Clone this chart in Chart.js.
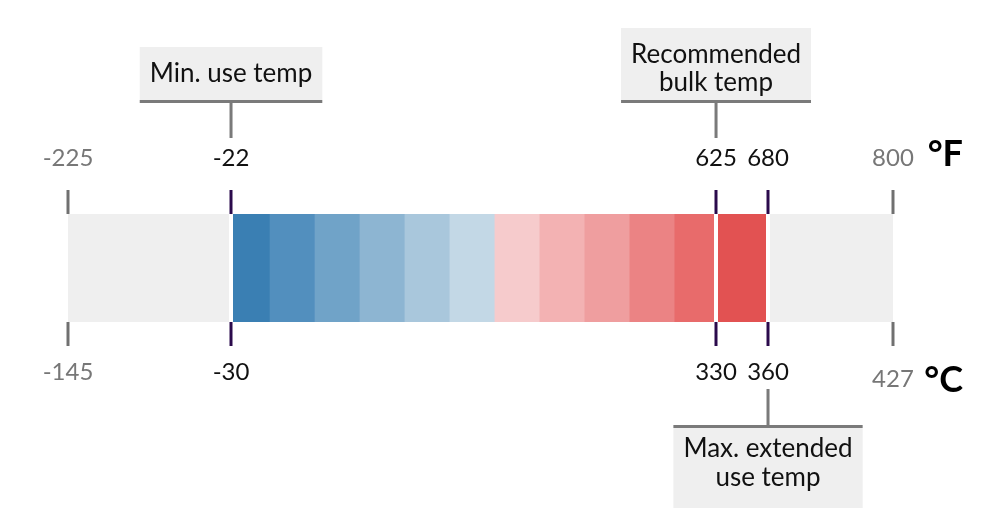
<!DOCTYPE html>
<html>
<head>
<meta charset="utf-8">
<script src="https://cdn.jsdelivr.net/npm/chart.js@4.4.1/dist/chart.umd.min.js"></script>
<style>
    body { margin: 0; background: #fff; }
    #wrap { width: 1001px; height: 509px; position: relative; }
</style>
</head>
<body>
<div id="wrap"><canvas id="temp-scale"></canvas></div>
<script>
// marks on the two axes (same physical points, °F on top, °C below)
const ticksF = [-225, -22, 625, 680, 800];
const ticksC = [-145, -30, 330, 360, 427];
const keyTicks = [false, true, true, true, false];

// colour ramp, one band per step in °F
const bandFrom = [-22, 30, 90, 150, 210, 270, 330, 390, 450, 510, 570, 625];
const bandTo = [30, 90, 150, 210, 270, 330, 390, 450, 510, 570, 625, 680];

// whole scale shown in grey behind the ramp
const fullRange = [-225, 800];

const calloutTemps = [-22, 625, 680];
const calloutLabels = [['Min. use temp'], ['Recommended', 'bulk temp'], ['Max. extended', 'use temp']];
const calloutSide = ['top', 'top', 'bottom'];

const bandColors = ['#3a7fb3', '#528fbe', '#70a3c8', '#8db5d2', '#a9c7dc', '#c3d8e6',
    '#f6cbcc', '#f3b2b3', '#ef9e9f', '#eb8384', '#e86b6b', '#e25252'];

// where each tick sits along the axis (the original scale is drawn piecewise)
const axisStops = [0, 0.1976, 0.7855, 0.8485, 1];

function interp(v, from, to) {
    for (let i = 1; i < from.length; i++) {
        if (v <= from[i] || i === from.length - 1) {
            const t = (v - from[i - 1]) / (from[i] - from[i - 1]);
            return to[i - 1] + t * (to[i] - to[i - 1]);
        }
    }
}

class BreakScale extends Chart.LinearScale {
    getPixelForValue(value) {
        if (value === null || value === undefined) return NaN;
        return this.getPixelForDecimal(interp(value, ticksF, axisStops));
    }
    getValueForPixel(pixel) {
        return interp(this.getDecimalForPixel(pixel), axisStops, ticksF);
    }
}
BreakScale.id = 'breaks';
BreakScale.defaults = Chart.LinearScale.defaults;
Chart.register(BreakScale);

const callouts = {
    id: 'callouts',
    afterDraw(chart) {
        const { ctx, chartArea } = chart;
        const xScale = chart.scales.x;
        ctx.save();
        ctx.font = '26px Lato';
        ctx.textAlign = 'center';
        ctx.textBaseline = 'alphabetic';
        calloutTemps.forEach((temp, i) => {
            const cx = xScale.getPixelForValue(temp);
            const lines = calloutLabels[i];
            const w = Math.max(...lines.map(l => ctx.measureText(l).width)) + 20;
            let boxTop, boxH, lineY, stemTop, stemBottom, textY;
            if (calloutSide[i] === 'top') {
                boxH = 34 + 19 * lines.length;
                boxTop = chartArea.top - 114 - boxH;
                lineY = boxTop + boxH + 1.5;
                stemTop = lineY;
                stemBottom = chartArea.top - 76;
                textY = boxTop + 34.5;
            } else {
                boxTop = chartArea.bottom + 106;
                boxH = 80;
                lineY = boxTop - 1.5;
                stemTop = chartArea.bottom + 67;
                stemBottom = lineY;
                textY = boxTop + 29;
            }
            ctx.fillStyle = '#efefef';
            ctx.fillRect(cx - w / 2, boxTop, w, boxH);
            ctx.strokeStyle = '#7a7a7a';
            ctx.lineWidth = 3;
            ctx.beginPath();
            ctx.moveTo(cx - w / 2, lineY);
            ctx.lineTo(cx + w / 2, lineY);
            ctx.moveTo(cx, stemTop);
            ctx.lineTo(cx, stemBottom);
            ctx.stroke();
            ctx.fillStyle = '#111';
            lines.forEach((l, j) => ctx.fillText(l, cx, textY + j * 28.5));
        });
        ctx.font = 'bold 36px Lato';
        ctx.textAlign = 'right';
        ctx.fillStyle = '#000';
        ctx.fillText('°F', chartArea.right + 70, chartArea.top - 48);
        ctx.fillText('°C', chartArea.right + 70, chartArea.bottom + 70);
        ctx.restore();
    }
};

function axisOptions(position) {
    const top = position === 'top';
    return {
        type: 'breaks',
        position: position,
        axis: 'x',
        min: fullRange[0],
        max: fullRange[1],
        afterBuildTicks: (scale) => { scale.ticks = ticksF.map(v => ({ value: v })); },
        afterFit: (scale) => { scale.height = top ? 214 : 187; },
        border: { display: false },
        grid: {
            z: 1,
            drawOnChartArea: top,
            color: (c) => keyTicks[c.index] ? '#ffffff' : 'rgba(0,0,0,0)',
            lineWidth: 4,
            drawTicks: true,
            tickLength: 24,
            tickWidth: 3,
            tickColor: (c) => keyTicks[c.index] ? '#2b0a4c' : '#707070'
        },
        ticks: {
            autoSkip: false,
            maxRotation: 0,
            padding: top ? 17 : 12,
            color: (c) => keyTicks[c.index] ? '#111111' : '#777777',
            font: (c) => ({
                family: 'Lato',
                size: 24,
                lineHeight: (!top && c.index === ticksC.length - 1) ? 1.8 : 1.2
            }),
            callback: (value, index) => top ? String(ticksF[index]) : String(ticksC[index])
        }
    };
}

new Chart(document.querySelector('#temp-scale'), {
    type: 'bar',
    data: {
        labels: ['range'],
        datasets: [{
            label: 'Ramp',
            data: bandFrom.map((from, i) => ({ y: 'range', x: [from, bandTo[i]] })),
            backgroundColor: bandColors,
            borderWidth: 0,
            grouped: false,
            categoryPercentage: 1,
            barPercentage: 1,
            xAxisID: 'x'
        }, {
            label: 'Scale',
            data: [{ y: 'range', x: fullRange }],
            backgroundColor: '#efefef',
            borderWidth: 0,
            grouped: false,
            categoryPercentage: 1,
            barPercentage: 1,
            xAxisID: 'x'
        }]
    },
    options: {
        indexAxis: 'y',
        responsive: true,
        maintainAspectRatio: false,
        animation: false,
        layout: { padding: { left: 68, right: 108, top: 0, bottom: 0 }, autoPadding: false },
        plugins: {
            legend: { display: false },
            tooltip: { enabled: false }
        },
        scales: {
            y: { display: false },
            x: axisOptions('top'),
            x2: axisOptions('bottom')
        }
    },
    plugins: [callouts]
});
</script>
</body>
</html>
